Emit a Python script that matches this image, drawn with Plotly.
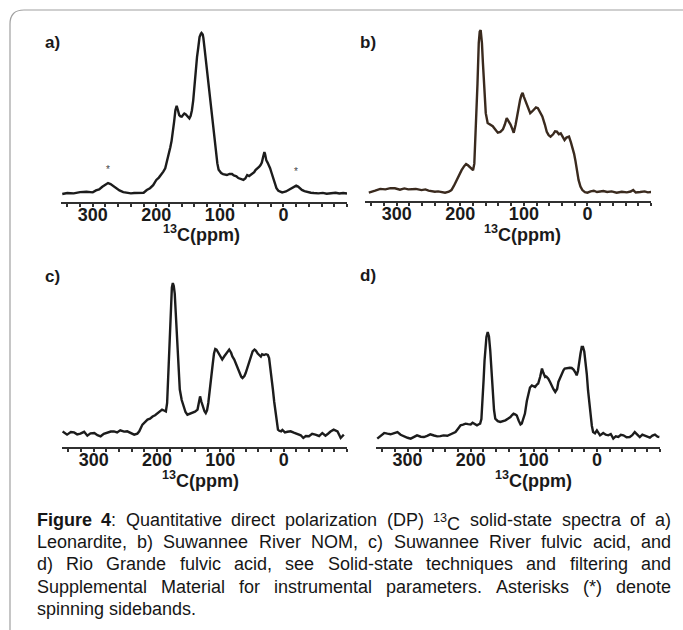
import re
import plotly.graph_objects as go

W, H = 683, 630

# ---------------- data ----------------
tick_vals = [300, 200, 100, 0]
tick_text = ["300", "200", "100", "0"]
x_title = "<sup>13</sup>C(ppm)"
panel_labels = ["a)", "b)", "c)", "d)"]

ppm_a = [348, 340, 330, 320, 310, 300, 295, 290, 285, 280, 276, 272, 268, 263, 258, 252, 247, 240, 235, 228, 220,
         215, 210, 205, 200, 196, 192, 189, 186, 184, 181, 178, 176, 174, 172, 170, 168, 166, 164, 162, 160, 158,
         156, 154, 152, 150, 148, 146, 144, 142, 139, 136, 134, 132, 130, 129, 127, 126, 124, 122, 120, 118, 116,
         114, 112, 110, 108, 106, 104, 102, 100, 98, 95, 92, 89, 85, 81, 78, 74, 71, 67, 63, 60, 57, 54, 52, 49,
         46, 44, 41, 38, 36, 34, 32, 31, 30, 29, 27, 25, 23, 21, 19, 17, 15, 13, 11, 8, 5, 2, 0, -4, -8, -11, -14,
         -17, -20, -23, -26, -29, -33, -38, -43, -48, -55, -62, -68, -75, -82, -88, -94, -100]
int_a = [0.0, 0.6, 0.4, 1.2, 1.4, 1.0, 2.2, 2.8, 4.5, 6.0, 6.8, 6.2, 5.0, 3.5, 2.2, 1.2, 0.8, 0.4, 0.6, 0.5, 0.8,
         2.5, 3.6, 5.5, 8.7, 10.2, 12.0, 13.9, 16.0, 19.0, 23.5, 29.0, 33.0, 38.0, 45.0, 52.0, 54.7, 52.0, 49.0,
         48.2, 48.0, 49.0, 50.0, 49.5, 48.5, 47.5, 47.0, 48.5, 52.0, 58.0, 73.0, 85.0, 91.0, 97.5, 99.5, 100.0,
         99.0, 97.0, 90.0, 83.0, 76.0, 69.0, 60.0, 52.0, 45.0, 38.0, 31.0, 25.0, 19.0, 15.0, 13.8, 13.0, 12.4,
         12.2, 11.8, 12.5, 12.4, 11.5, 11.0, 9.9, 9.4, 8.7, 9.6, 11.8, 11.2, 11.8, 12.6, 13.6, 14.9, 15.8, 17.0,
         18.0, 19.5, 23.0, 25.0, 26.0, 25.0, 21.0, 19.5, 18.0, 16.0, 13.5, 11.0, 8.0, 5.5, 3.6, 2.0, 1.4, 1.0, 1.2,
         1.6, 2.5, 3.1, 4.0, 4.8, 5.2, 4.6, 3.6, 2.5, 1.8, 1.2, 0.8, 0.6, 0.4, 0.7, 0.2, 0.5, 0.8, 0.3, 0.6, 0.3]

ppm_b = [344, 338, 334, 326, 318, 310, 303, 295, 288, 282, 275, 270, 261, 255, 250, 245, 240, 235, 230, 224, 218,
         214, 210, 206, 202, 198, 194, 191, 188, 185, 182, 180, 178, 177, 175, 173, 171, 169.5, 168, 166.5, 166,
         164.5, 163, 161.5, 160, 157, 153, 149, 145, 141, 137, 133, 130, 127, 124, 121, 118, 116, 113, 111, 108,
         106, 104, 102, 100, 97, 93, 90, 87, 84, 81, 78, 74, 71, 67, 64, 61, 58, 54, 51, 48, 45, 42, 39, 36, 33,
         29, 26, 24, 21, 19, 16, 14, 11, 8, 4, 0, -5, -10, -15, -20, -25, -31, -38, -46, -54, -62, -68, -72, -76,
         -83, -90, -95, -101]
int_b = [0.2, 0.8, 1.4, 2.5, 2.2, 3.0, 2.9, 2.0, 2.8, 2.2, 2.6, 2.5, 1.8, 2.2, 1.5, 1.2, 0.8, 1.0, 0.5, 0.2, 0.8,
         1.8, 4.5, 8.0, 11.0, 14.0, 16.5, 17.8, 17.0, 16.0, 14.5, 14.0, 18.0, 26.0, 45.0, 67.0, 92.0, 99.0, 100.0,
         95.0, 92.0, 80.0, 67.0, 56.0, 49.0, 43.0, 42.0, 41.0, 39.0, 37.0, 37.5, 39.0, 42.0, 46.0, 44.0, 42.0,
         39.0, 37.0, 42.0, 47.0, 52.0, 57.0, 60.0, 61.5, 59.0, 56.0, 52.0, 49.0, 50.0, 51.0, 52.5, 52.0, 49.5,
         47.0, 42.0, 37.6, 35.5, 34.6, 36.0, 37.8, 37.6, 36.0, 36.6, 34.0, 32.5, 34.0, 34.6, 31.0, 28.4, 24.0,
         20.0, 13.0, 8.0, 4.0, 1.8, 0.5, 0.2, 1.0, 1.4, 0.6, 0.8, 1.2, 0.6, 1.0, 0.2, 0.8, 0.4, 0.9, 1.8, 0.3,
         0.6, 1.0, 0.4, 0.6]

ppm_c = [349, 342, 336, 331, 326, 321, 315, 310, 305, 299, 294, 289, 284, 278, 273, 268, 263, 258, 252, 247, 242,
         236, 231, 228, 223, 219, 215, 211, 207, 203, 199, 195, 192, 189, 186, 184, 182.5, 181, 179.5, 178, 176.5,
         175, 173.5, 172, 170, 168, 166, 164, 161, 158, 155, 152, 148, 144, 140, 136, 134, 132, 130, 128, 125,
         123, 121, 119, 117, 115, 112, 110, 108, 106, 104, 102, 99, 97, 94, 92, 89, 86, 83, 81, 78, 76, 73, 70,
         67, 65, 62, 60, 57, 55, 52, 49, 46, 44, 41, 39, 36, 34, 31, 28, 25, 23, 21, 19, 17, 15, 13, 11, 9, 7, 4,
         2, -2, -6, -11, -16, -21, -27, -31, -35, -40, -45, -50, -56, -61, -66, -70, -74, -79, -85, -88, -90,
         -93, -95, -98, -100]
int_c = [1.1, -1.1, 0.6, 0.4, -0.9, -0.4, 0.8, -1.8, -0.2, 0.0, -1.5, -2.2, -0.6, 0.4, 1.0, 1.1, 0.4, 1.8, 0.9,
         1.1, 0.2, -1.1, -0.4, 1.1, 5.6, 7.0, 8.9, 9.5, 11.0, 11.8, 13.3, 14.2, 15.6, 15.0, 14.4, 20.0, 38.0, 55.6,
         75.0, 89.0, 97.0, 100.0, 98.0, 93.0, 75.0, 55.6, 40.0, 29.0, 22.0, 17.8, 14.0, 12.2, 13.0, 13.3, 14.2,
         15.6, 19.0, 24.4, 21.0, 17.8, 14.5, 13.3, 15.0, 20.0, 28.0, 37.8, 46.0, 53.0, 56.0, 55.6, 54.0, 52.0,
         50.0, 49.0, 51.0, 52.0, 54.0, 55.6, 53.5, 51.0, 49.0, 46.7, 43.0, 40.0, 37.5, 36.7, 38.0, 40.0, 44.0,
         46.7, 51.0, 54.4, 55.6, 55.0, 53.0, 52.0, 51.0, 52.5, 52.0, 52.5, 52.0, 50.0, 44.0, 37.0, 29.0, 21.0,
         13.3, 7.0, 2.2, 1.5, 1.1, 2.0, 0.4, 0.8, 1.1, 0.2, -0.4, -1.5, -3.3, -2.0, -2.2, -0.6, -1.1, -2.0, 0.0,
         -1.8, -0.5, 1.0, 2.2, 1.1, -1.5, -3.3, -2.0, -1.1]

ppm_d = [348, 342, 337, 332, 327, 321, 316, 311, 306, 300, 295, 290, 285, 279, 274, 269, 264, 258, 253, 248, 243,
         237, 232, 228, 224, 220, 216, 212, 208, 204, 200, 197, 195, 192, 190, 187, 185, 183, 181, 179.5, 178,
         176.5, 175, 173, 171, 169, 167, 165, 163, 161, 157, 153, 149, 145, 141, 137, 134, 132, 129, 127, 124,
         121, 119, 117, 114, 111, 108, 106, 103, 100, 98, 95, 93, 90, 87, 85, 82, 80, 77, 74, 72, 69, 66, 63, 61,
         58, 56, 53, 51, 47, 43, 40, 37, 34, 32, 30, 28, 26, 24, 22, 20, 18, 16, 14, 12, 10, 8, 6, 3, 0, -5, -10,
         -14, -18, -22, -26, -30, -34, -38, -42, -47, -52, -56, -60, -64, -68, -72, -76, -80, -84, -88, -92, -96,
         -99]
int_d = [-1.1, 0.8, 2.7, 2.2, 1.8, 2.6, 3.3, 1.5, 0.4, -0.5, -1.1, 0.0, 1.1, 0.2, 0.0, 0.8, 1.8, 1.0, 0.4, 0.6,
         1.1, 0.8, 1.8, 2.5, 3.3, 5.5, 7.8, 8.2, 8.9, 8.6, 8.4, 9.5, 8.9, 8.0, 7.8, 8.5, 8.9, 12.0, 24.4, 38.0,
         51.0, 60.0, 66.7, 70.0, 67.0, 57.8, 45.0, 28.9, 18.0, 12.2, 10.6, 10.0, 10.5, 11.1, 12.2, 13.3, 14.8,
         15.6, 15.0, 14.4, 11.0, 8.4, 9.0, 12.0, 15.6, 24.0, 31.0, 33.0, 34.4, 33.8, 33.3, 35.0, 35.6, 40.0, 45.6,
         43.0, 40.0, 40.2, 38.9, 36.5, 34.4, 32.0, 30.0, 32.0, 36.7, 39.5, 42.2, 44.5, 45.6, 46.0, 46.2, 46.0,
         44.9, 43.0, 41.1, 44.0, 51.0, 55.5, 60.0, 60.0, 57.0, 51.0, 42.0, 31.0, 22.0, 13.3, 7.5, 3.3, 2.5, 4.4,
         1.1, 2.7, 1.5, 1.1, 2.0, -1.1, 0.5, 0.0, 1.5, 1.1, -0.2, 0.0, 1.2, 3.3, 1.5, 0.0, 1.6, 1.1, 0.2, -0.4,
         0.9, 1.6, 0.2, 0.0]

ppm_lists = [ppm_a, ppm_b, ppm_c, ppm_d]
int_lists = [int_a, int_b, int_c, int_d]
line_colors = ["#1c1c1c", "#3a2a1e", "#1c1c1c", "#1c1c1c"]

asterisk_ppm = [276, -20]
asterisk_int = [11.5, 10.5]

caption_lines = [
    "<b>Figure</b> <b>4</b>: Quantitative direct polarization (DP) <sup>13</sup>C solid-state spectra of a)",
    "Leonardite, b) Suwannee River NOM, c) Suwannee River fulvic acid, and",
    "d) Rio Grande fulvic acid, see Solid-state techniques and filtering and",
    "Supplemental Material for instrumental parameters. Asterisks (*) denote",
    "spinning sidebands.",
]

# ---------------- layout geometry (pixels) ----------------
def fx(x):
    return x / W


def fy(y):
    return 1 - y / H


panels = [
    dict(x0=61, x1=347, axis=202, top=22, base=194, scale=1.61, label=(45, 43), title=(201, 233)),
    dict(x0=365, x1=651, axis=201, top=22, base=193, scale=1.63, label=(360, 43), title=(522, 233)),
    dict(x0=62, x1=347, axis=447, top=266, base=433, scale=1.5, label=(45, 276), title=(200, 479)),
    dict(x0=376, x1=660, axis=447, top=266, base=437, scale=1.5, label=(360, 275), title=(533, 479)),
]

FONT = "Liberation Sans, Arial, Helvetica, sans-serif"
fig = go.Figure()
annotations = []

for i, p in enumerate(panels):
    n = "" if i == 0 else str(i + 1)
    xa, ya = "x" + n, "y" + n
    fig.add_trace(go.Scatter(x=ppm_lists[i], y=int_lists[i], mode="lines", xaxis=xa, yaxis=ya,
                             line=dict(color=line_colors[i], width=2.4), hoverinfo="skip", showlegend=False))
    ylo = -(p["axis"] - p["base"]) / p["scale"]
    yhi = (p["base"] - p["top"]) / p["scale"]
    fig.layout["xaxis" + n] = dict(
        domain=[fx(p["x0"]), fx(p["x1"])], anchor=ya, range=[350, -100],
        showgrid=False, zeroline=False, showline=True, linecolor="#303030", linewidth=2,
        ticks="", tickvals=tick_vals, ticktext=tick_text, ticklabelstandoff=-5,
        tickfont=dict(family=FONT, size=18, color="#1a1a1a", weight="bold"),
        minor=dict(dtick=20, tick0=0, ticks="outside", ticklen=3, tickwidth=2, tickcolor="#303030",
                   showgrid=False),
        fixedrange=True,
    )
    fig.layout["yaxis" + n] = dict(
        domain=[fy(p["axis"]), fy(p["top"])], anchor=xa, range=[ylo, yhi],
        visible=False, fixedrange=True,
    )
    annotations.append(dict(text="<b>%s</b>" % panel_labels[i], x=fx(p["label"][0]), y=fy(p["label"][1]),
                            xref="paper", yref="paper", xanchor="left", yanchor="middle", showarrow=False,
                            font=dict(family=FONT, size=17, color="#1a1a1a"), borderpad=0, borderwidth=0))
    annotations.append(dict(text="<b>%s</b>" % x_title, x=fx(p["title"][0]), y=fy(p["title"][1]),
                            xref="paper", yref="paper", xanchor="center", yanchor="middle", showarrow=False,
                            font=dict(family=FONT, size=18, color="#1a1a1a"), borderpad=0, borderwidth=0))

for xp, yv in zip(asterisk_ppm, asterisk_int):
    annotations.append(dict(text="*", x=xp, y=yv, xref="x", yref="y", xanchor="center", yanchor="bottom",
                            showarrow=False, font=dict(family=FONT, size=10, color="#444444"),
                            borderpad=0, borderwidth=0))

# ---------------- caption (justified, word by word) ----------------
REG = {' ': 278, '!': 278, '(': 333, ')': 333, '*': 389, ',': 278, '-': 333, '.': 278, ':': 278,
       'A': 667, 'B': 667, 'C': 722, 'D': 722, 'E': 667, 'F': 611, 'G': 778, 'H': 722, 'I': 278, 'J': 500,
       'K': 667, 'L': 556, 'M': 833, 'N': 722, 'O': 778, 'P': 667, 'Q': 778, 'R': 722, 'S': 667, 'T': 611,
       'U': 722, 'V': 667, 'W': 944, 'X': 667, 'Y': 667, 'Z': 611,
       'a': 556, 'b': 556, 'c': 500, 'd': 556, 'e': 556, 'f': 278, 'g': 556, 'h': 556, 'i': 222, 'j': 222,
       'k': 500, 'l': 222, 'm': 833, 'n': 556, 'o': 556, 'p': 556, 'q': 556, 'r': 333, 's': 500, 't': 278,
       'u': 556, 'v': 500, 'w': 722, 'x': 500, 'y': 500, 'z': 500}
BOLD = {'F': 611, 'i': 278, 'g': 611, 'u': 611, 'r': 389, 'e': 556}
CAP_SIZE = 18


def word_width(word):
    total, style = 0.0, "r"
    for tok in re.split(r"(<b>|</b>|<sup>|</sup>)", word):
        if tok == "<b>":
            style = "b"
        elif tok == "<sup>":
            style = "s"
        elif tok in ("</b>", "</sup>"):
            style = "r"
        elif tok:
            for ch in tok:
                if style == "b":
                    total += BOLD.get(ch, 556) * CAP_SIZE
                elif style == "s":
                    total += REG.get(ch, 556) * CAP_SIZE * 0.7
                else:
                    total += REG.get(ch, 556) * CAP_SIZE
    return total / 1000.0


cap_left, cap_right = 36.5, 671
cap_y = [520, 542, 564, 586.5, 609]
for li, line in enumerate(caption_lines):
    words = line.split(" ")
    widths = [word_width(w) for w in words]
    last = li == len(caption_lines) - 1
    if last or len(words) == 1:
        gap = REG[' '] * CAP_SIZE / 1000.0
    else:
        gap = (cap_right - cap_left - sum(widths)) / (len(words) - 1)
    xpos = cap_left
    for wi, w in enumerate(words):
        if not last and wi == len(words) - 1:
            ax, anc = cap_right, "right"
        else:
            ax, anc = xpos, "left"
        annotations.append(dict(text=w, x=fx(ax), y=fy(cap_y[li]), xref="paper", yref="paper",
                                xanchor=anc, yanchor="middle", showarrow=False,
                                yshift=(-2.5 if "<sup>" in w else 0),
                                font=dict(family=FONT, size=CAP_SIZE, color="#161616"),
                                borderpad=0, borderwidth=0))
        xpos += widths[wi] + gap

# ---------------- frame ----------------
r = 14
frame_path = "M %f,%f L %f,%f Q %f,%f %f,%f L %f,%f" % (
    fx(10), fy(700), fx(10), fy(10 + r), fx(10), fy(10), fx(10 + r), fy(10), fx(760), fy(10))
shapes = [dict(type="path", path=frame_path, xref="paper", yref="paper",
               line=dict(color="#a0a0a0", width=1.2))]

fig.update_layout(
    width=W, height=H, margin=dict(l=0, r=0, t=0, b=0),
    paper_bgcolor="white", plot_bgcolor="rgba(0,0,0,0)",
    showlegend=False, annotations=annotations, shapes=shapes,
    font=dict(family=FONT, color="#1a1a1a"),
)

fig.write_html("out.html", config={"displayModeBar": False},
               post_script="document.body.style.margin='0';document.body.style.overflow='hidden';")
